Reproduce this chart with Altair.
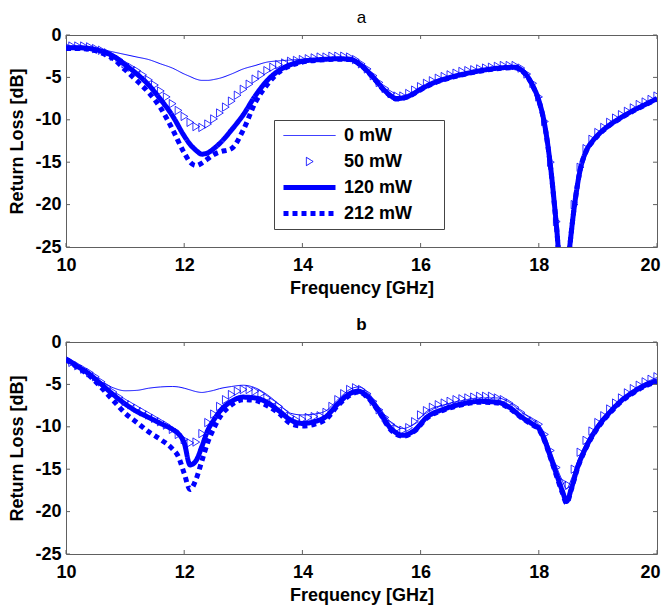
import altair as alt
import pandas as pd

FONT = "Liberation Sans"
BLUE = "#0000ff"
FRAME = "#606060"
SERIES = ["0 mW", "50 mW", "120 mW", "212 mW"]
X_TICKS = [10, 12, 14, 16, 18, 20]
Y_TICKS = [0, -5, -10, -15, -20, -25]

# frequency samples of the 50 mW marker series (both panels)
FREQ_50 = [10.0, 10.1, 10.2, 10.3, 10.4, 10.5, 10.6, 10.7, 10.8, 10.9,
           11.0, 11.1, 11.2, 11.3, 11.4, 11.5, 11.6, 11.7, 11.8, 11.9,
           12.0, 12.1, 12.2, 12.3, 12.4, 12.5, 12.6, 12.7, 12.8, 12.9,
           13.0, 13.1, 13.2, 13.3, 13.4, 13.5, 13.6, 13.7, 13.8, 13.9,
           14.0, 14.1, 14.2, 14.3, 14.4, 14.5, 14.6, 14.7, 14.8, 14.9,
           15.0, 15.1, 15.2, 15.3, 15.4, 15.5, 15.6, 15.7, 15.8, 15.9,
           16.0, 16.1, 16.2, 16.3, 16.4, 16.5, 16.6, 16.7, 16.8, 16.9,
           17.0, 17.1, 17.2, 17.3, 17.4, 17.5, 17.6, 17.7, 17.8, 17.9,
           18.0, 18.1, 18.2, 18.3, 18.4, 18.5, 18.6, 18.7, 18.8, 18.9,
           19.0, 19.1, 19.2, 19.3, 19.4, 19.5, 19.6, 19.7, 19.8, 19.9, 20.0]

# ---------------- panel a ----------------
RL_50_A = [-1.3, -1.3, -1.3, -1.3, -1.4, -1.6, -1.8, -2.1, -2.5, -2.9,
           -3.4, -3.8, -4.2, -4.7, -5.3, -5.9, -6.6, -7.3, -8.1, -8.9,
           -9.6, -10.3, -10.8, -10.9, -10.5, -9.9, -9.2, -8.5, -7.8, -7.1,
           -6.4, -5.8, -5.2, -4.7, -4.2, -3.8, -3.5, -3.3, -3.1, -3.0,
           -2.9, -2.8, -2.7, -2.6, -2.6, -2.5, -2.5, -2.5, -2.6, -2.9,
           -3.4, -4.0, -4.8, -5.6, -6.3, -6.9, -7.2, -7.2, -6.9, -6.5,
           -6.1, -5.7, -5.4, -5.1, -4.9, -4.7, -4.5, -4.3, -4.2, -4.1,
           -4.0, -3.9, -3.8, -3.7, -3.6, -3.6, -3.6, -3.9, -4.6, -5.7,
           -7.3, -10.2, -15.0, -22.0, -31.0, -26.0, -20.0, -15.6, -13.4, -12.3,
           -11.5, -10.9, -10.3, -9.8, -9.4, -9.0, -8.6, -8.2, -7.9, -7.6, -7.2]

FREQ_LINE_A = [10.0, 10.2, 10.4, 10.6, 10.8, 11.0, 11.2, 11.4, 11.6, 11.8,
               12.0, 12.1, 12.2, 12.3, 12.4, 12.5, 12.6, 12.8, 13.0, 13.2,
               13.4, 13.6, 13.8, 14.0, 14.3, 14.6, 14.8, 15.0, 15.2, 15.4,
               15.6, 15.8, 16.0, 16.2, 16.5, 16.8, 17.1, 17.4, 17.6, 17.7,
               17.8, 17.9, 18.0, 18.1, 18.2, 18.3, 18.42, 18.5, 18.6, 18.7,
               18.8, 18.9, 19.0, 19.2, 19.4, 19.6, 19.8, 20.0]
RL_0_A = [-1.3, -1.3, -1.4, -1.7, -2.0, -2.3, -2.6, -2.9, -3.4, -3.9,
          -4.6, -4.9, -5.2, -5.35, -5.35, -5.25, -5.1, -4.6, -4.0, -3.6,
          -3.2, -3.05, -2.95, -2.85, -2.75, -2.7, -2.8, -3.5, -4.9, -6.5,
          -7.4, -7.1, -6.3, -5.6, -4.9, -4.4, -4.0, -3.75, -3.7, -4.0,
          -4.7, -5.9, -7.6, -10.5, -15.5, -22.5, -32.0, -26.5, -20.3, -15.8,
          -13.6, -12.5, -11.7, -10.5, -9.6, -8.8, -8.1, -7.4]
RL_120_A = [-1.5, -1.5, -1.6, -1.9, -2.5, -3.5, -4.6, -5.9, -7.6, -9.5,
            -11.9, -12.9, -13.6, -14.05, -13.9, -13.4, -12.8, -11.2, -9.4, -7.2,
            -5.4, -4.2, -3.5, -3.1, -2.9, -2.8, -2.85, -3.6, -5.0, -6.6,
            -7.5, -7.2, -6.4, -5.7, -5.0, -4.5, -4.1, -3.85, -3.8, -4.1,
            -4.8, -6.0, -7.7, -10.6, -15.6, -22.6, -32.0, -26.5, -20.3, -15.9,
            -13.7, -12.6, -11.8, -10.6, -9.7, -8.9, -8.2, -7.5]
RL_212_A = [-1.6, -1.6, -1.7, -2.1, -2.8, -4.1, -5.4, -6.8, -8.6, -11.1,
            -13.9, -15.0, -15.4, -15.1, -14.6, -14.1, -13.8, -13.4, -11.2, -8.0,
            -5.9, -4.4, -3.6, -3.2, -2.95, -2.85, -2.9, -3.65, -5.05, -6.65,
            -7.55, -7.25, -6.45, -5.75, -5.05, -4.55, -4.15, -3.9, -3.85, -4.15,
            -4.85, -6.05, -7.75, -10.65, -15.65, -22.7, -32.0, -26.5, -20.3, -15.9,
            -13.75, -12.65, -11.85, -10.65, -9.75, -8.95, -8.25, -7.55]

# ---------------- panel b ----------------
RL_50_B = [-2.0, -2.4, -2.8, -3.2, -3.6, -4.1, -4.7, -5.3, -5.9, -6.5,
           -7.0, -7.4, -7.8, -8.2, -8.6, -9.0, -9.4, -9.8, -10.3, -10.9,
           -11.5, -11.9, -11.8, -10.8, -9.5, -8.5, -7.6, -6.8, -6.2, -5.8,
           -5.6, -5.6, -5.8, -6.1, -6.6, -7.1, -7.6, -8.2, -8.8, -9.2,
           -9.1, -8.9, -8.8, -8.7, -8.3, -7.6, -6.8, -6.1, -5.6, -5.4,
           -5.6, -6.1, -7.0, -8.0, -8.9, -9.7, -10.2, -10.4, -10.1, -9.4,
           -8.6, -8.1, -7.7, -7.4, -7.2, -7.0, -6.8, -6.7, -6.6, -6.5,
           -6.4, -6.4, -6.4, -6.6, -6.8, -7.2, -7.7, -8.3, -8.9, -9.3,
           -9.7, -10.9, -12.8, -14.8, -16.5, -16.9, -15.0, -13.0, -11.6, -10.5,
           -9.5, -8.7, -7.9, -7.2, -6.6, -6.0, -5.5, -5.1, -4.7, -4.4, -4.1]

FREQ_LINE_B = [10.0, 10.2, 10.4, 10.6, 10.8, 11.0, 11.2, 11.4, 11.6, 11.8,
               11.9, 12.0, 12.1, 12.2, 12.3, 12.4, 12.5, 12.6, 12.8, 13.0,
               13.2, 13.4, 13.6, 13.8, 14.0, 14.2, 14.4, 14.6, 14.8, 14.95,
               15.1, 15.3, 15.5, 15.7, 15.9, 16.1, 16.4, 16.7, 17.0, 17.3,
               17.5, 17.7, 17.9, 18.0, 18.1, 18.2, 18.3, 18.4, 18.47, 18.55,
               18.65, 18.8, 19.0, 19.2, 19.4, 19.6, 19.8, 20.0]
RL_0_B = [-2.0, -2.9, -3.7, -4.7, -5.4, -5.75, -5.7, -5.45, -5.3, -5.25,
          -5.3, -5.45, -5.65, -5.85, -5.95, -5.85, -5.7, -5.5, -5.25, -5.1,
          -5.4, -6.2, -7.3, -8.4, -8.6, -8.5, -8.1, -6.8, -5.6, -5.3,
          -5.9, -7.7, -9.5, -10.2, -9.6, -8.2, -7.4, -6.9, -6.6, -6.6,
          -7.1, -8.2, -9.2, -9.7, -10.9, -12.8, -14.7, -16.4, -17.3, -16.2,
          -14.2, -11.9, -9.6, -8.0, -6.7, -5.6, -4.8, -4.2]
RL_120_B = [-2.0, -2.9, -3.8, -5.0, -6.2, -7.3, -8.2, -8.9, -9.6, -10.3,
            -10.8, -11.9, -14.5, -14.0, -12.3, -10.4, -9.2, -8.2, -7.0, -6.5,
            -6.6, -7.1, -8.1, -9.2, -9.6, -9.4, -8.8, -7.3, -6.1, -5.8,
            -6.4, -8.2, -10.2, -11.0, -10.4, -8.9, -7.9, -7.3, -7.0, -7.1,
            -7.7, -8.8, -9.7, -10.2, -11.6, -13.6, -15.6, -17.6, -18.8, -17.3,
            -14.9, -12.4, -10.0, -8.3, -6.9, -5.9, -5.1, -4.6]
RL_212_B = [-2.1, -3.0, -4.0, -5.4, -6.9, -8.4, -9.5, -10.6, -11.5, -12.6,
            -13.5, -15.5, -17.4, -16.2, -14.0, -11.8, -10.2, -8.9, -7.4, -6.8,
            -6.9, -7.5, -8.4, -9.6, -9.9, -9.7, -9.1, -7.5, -6.3, -5.9,
            -6.5, -8.3, -10.4, -11.1, -10.5, -9.0, -8.0, -7.4, -7.1, -7.2,
            -7.8, -8.9, -9.8, -10.3, -11.7, -13.7, -15.8, -17.8, -19.0, -17.4,
            -15.0, -12.5, -10.1, -8.4, -7.0, -6.0, -5.2, -4.7]

W, H = 591, 212
SYM_SIZE = 2704
LINE_PATH = "M-1,0L1,0"
TRI_PATH = "M-0.12,-0.16L0.14,0L-0.12,0.16Z"


def make_legend(show):
    if not show:
        return None
    return alt.Legend(
        title=None, orient="none", legendX=208, legendY=85, direction="vertical",
        padding=6, strokeColor="#444444", fillColor="white", cornerRadius=0,
        symbolSize=SYM_SIZE, symbolStrokeColor=BLUE, symbolFillColor="transparent",
        clipHeight=19, rowPadding=7, symbolOffset=1, labelOffset=6,
        labelFont=FONT, labelFontSize=18, labelFontWeight="bold", labelColor="black",
        labelExpr="datum.label + '\u00a0\u00a0\u00a0\u00a0\u00a0\u200b'",
    )


LAST_X = "datum.value === 20"
X_AXIS = alt.Axis(title="Frequency [GHz]", values=X_TICKS, ticks=False, domain=False,
                  grid=False, labelPadding=9, titlePadding=5, labelFlush=False,
                  labelAlign={"condition": {"test": LAST_X, "value": "right"}, "value": "center"},
                  labelOffset={"condition": {"test": LAST_X, "value": 3}, "value": 0},
                  labelExpr="'' + datum.value")
Y_AXIS = alt.Axis(title="Return Loss [dB]", values=Y_TICKS, ticks=False, domain=False,
                  grid=False, labelPadding=5, titlePadding=8, labelFlush=False,
                  labelExpr="'' + datum.value")


def panel(title, weight, f_line, rl0, rl120, rl212, rl50, show_legend):
    rows = []
    for name, vals in (("0 mW", rl0), ("120 mW", rl120), ("212 mW", rl212)):
        for f, v in zip(f_line, vals):
            rows.append({"series": name, "freq": f, "rl": v})
    lines = pd.DataFrame(rows)
    tris = pd.DataFrame({"series": "50 mW", "freq": FREQ_50, "rl": rl50})

    xs = alt.Scale(domain=[10, 20], nice=False, zero=False)
    ys = alt.Scale(domain=[-25, 0], nice=False, zero=False)
    leg = make_legend(show_legend)

    line_layer = alt.Chart(lines).mark_line(
        color=BLUE, clip=True, interpolate="monotone", strokeCap="butt"
    ).encode(
        x=alt.X("freq:Q", scale=xs, axis=X_AXIS),
        y=alt.Y("rl:Q", scale=ys, axis=Y_AXIS),
        strokeDash=alt.StrokeDash("series:N", scale=alt.Scale(
            domain=SERIES, range=[[1, 0], [1, 0], [1, 0], [5, 4]]), legend=leg),
        strokeWidth=alt.StrokeWidth("series:N", scale=alt.Scale(
            type="ordinal", domain=SERIES, range=[1, 1, 5, 5]), legend=leg),
    )

    tri_layer = alt.Chart(tris).mark_point(
        color=BLUE, filled=False, clip=True, size=SYM_SIZE, strokeWidth=0.8, opacity=1
    ).encode(
        x=alt.X("freq:Q", scale=xs, axis=X_AXIS),
        y=alt.Y("rl:Q", scale=ys, axis=Y_AXIS),
        shape=alt.Shape("series:N", scale=alt.Scale(
            domain=SERIES, range=[LINE_PATH, TRI_PATH, LINE_PATH, LINE_PATH]), legend=leg),
    )

    xt = pd.DataFrame({"freq": X_TICKS})
    yt = pd.DataFrame({"rl": Y_TICKS})
    tick = dict(color=FRAME, strokeWidth=1)
    xb = alt.Chart(xt).mark_rule(**tick).encode(
        x=alt.X("freq:Q", scale=xs, axis=X_AXIS), y=alt.value(H), y2=alt.value(H - 4))
    xtp = alt.Chart(xt).mark_rule(**tick).encode(
        x=alt.X("freq:Q", scale=xs, axis=X_AXIS), y=alt.value(0), y2=alt.value(4))
    yl = alt.Chart(yt).mark_rule(**tick).encode(
        y=alt.Y("rl:Q", scale=ys, axis=Y_AXIS), x=alt.value(0), x2=alt.value(4))
    yr = alt.Chart(yt).mark_rule(**tick).encode(
        y=alt.Y("rl:Q", scale=ys, axis=Y_AXIS), x=alt.value(W), x2=alt.value(W - 4))

    return alt.layer(line_layer, tri_layer, xb, xtp, yl, yr).properties(
        width=W, height=H,
        title=alt.TitleParams(title, fontWeight=weight, fontSize=17, font=FONT,
                              color="black", offset=-1, anchor="middle"),
    )


top = panel("a", "normal", FREQ_LINE_A, RL_0_A, RL_120_A, RL_212_A, RL_50_A, True)
bottom = panel("b", "bold", FREQ_LINE_B, RL_0_B, RL_120_B, RL_212_B, RL_50_B, False)

chart = alt.vconcat(top, bottom, spacing=17).resolve_scale(
    shape="independent", strokeDash="independent", strokeWidth="independent"
).resolve_legend(
    shape="independent", strokeDash="independent", strokeWidth="independent"
).configure_view(
    stroke=FRAME, strokeWidth=1
).configure_axis(
    labelFont=FONT, labelFontSize=18, labelFontWeight="bold", labelColor="black",
    titleFont=FONT, titleFontSize=18, titleFontWeight="bold", titleColor="black",
).properties(
    padding={"left": 0, "top": 0, "right": 0, "bottom": 0}, background="white"
)

chart.save("out.html", embed_options={"renderer": "svg", "actions": False})
